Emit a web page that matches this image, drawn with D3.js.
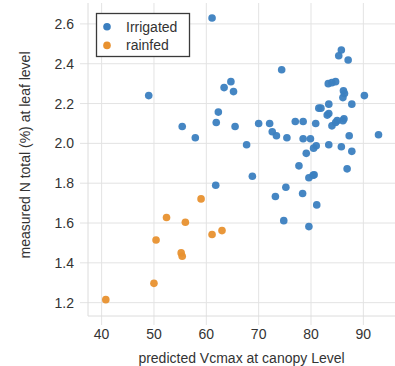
<!DOCTYPE html>
<html>
<head>
<meta charset="utf-8">
<script src="https://d3js.org/d3.v7.min.js"></script>
<style>
body { margin: 0; background: #fff; }
svg text { font-family: "Liberation Sans", Arial, sans-serif; fill: #333; }
</style>
</head>
<body>
<div id="chart"></div>
<script>
// data
var irrigatedX = [61.1, 74.4, 64.7, 63.4, 65.2, 62.3, 61.9, 65.5, 70.0, 72.1, 72.6, 73.4, 75.4, 67.7, 57.9, 49.0, 55.4,
  85.8, 85.3, 87.1, 83.3, 84.0, 84.7, 86.2, 86.4, 86.1, 90.2, 87.8, 83.4, 81.5, 81.9, 83.1, 83.4, 86.3, 86.1, 85.0, 84.7, 84.0,
  77.0, 78.5, 80.9, 87.3, 92.9, 78.5, 79.9, 81.0, 80.5, 83.4, 85.8, 87.8, 79.1,
  77.7, 79.6, 80.4, 80.6, 86.9, 78.4, 81.1, 79.6, 68.8, 61.8, 73.2, 75.2, 74.8];
var irrigatedY = [2.63, 2.37, 2.31, 2.28, 2.26, 2.157, 2.105, 2.085, 2.10, 2.10, 2.058, 2.038, 2.028, 1.993, 2.028, 2.24, 2.085,
  2.469, 2.44, 2.419, 2.30, 2.305, 2.31, 2.264, 2.25, 2.23, 2.24, 2.197, 2.197, 2.177, 2.177, 2.142, 2.15, 2.124, 2.114, 2.114, 2.105, 2.088,
  2.11, 2.11, 2.10, 2.038, 2.043, 2.023, 2.023, 1.988, 1.976, 1.993, 1.983, 1.96, 1.95,
  1.887, 1.827, 1.840, 1.842, 1.872, 1.748, 1.691, 1.582, 1.835, 1.79, 1.733, 1.78, 1.612];
var rainfedX = [59.0, 61.1, 63.0, 52.4, 56.0, 50.4, 55.2, 55.4, 50.0, 40.8];
var rainfedY = [1.721, 1.542, 1.562, 1.628, 1.604, 1.515, 1.45, 1.433, 1.297, 1.215];
var xTicks = [40, 50, 60, 70, 80, 90];
var yTicks = [1.2, 1.4, 1.6, 1.8, 2.0, 2.2, 2.4, 2.6];
var seriesNames = ["Irrigated", "rainfed"];
var colors = ["#3b7fc0", "#e8912f"];

var width = 395, height = 366;
var plotLeft = 88, plotRight = 395, plotTop = 3, plotBottom = 316;

var svg = d3.select("#chart").append("svg").attr("width", width).attr("height", height);

var x = d3.scaleLinear().domain([37.4, 96.05]).range([plotLeft, plotRight]);
var y = d3.scaleLinear().domain([1.133, 2.705]).range([plotBottom, plotTop]);

// grid + ticks (ticks are just the gridlines poking out)
svg.append("g").selectAll("line").data(xTicks).enter().append("line")
  .attr("x1", function(d) { return x(d); }).attr("x2", function(d) { return x(d); })
  .attr("y1", plotTop).attr("y2", plotBottom + 9)
  .attr("stroke", "#e3e3e3").attr("stroke-width", 1);
svg.append("g").selectAll("line").data(yTicks).enter().append("line")
  .attr("y1", function(d) { return y(d); }).attr("y2", function(d) { return y(d); })
  .attr("x1", plotLeft - 8).attr("x2", plotRight)
  .attr("stroke", "#e3e3e3").attr("stroke-width", 1);

// left + bottom spines
svg.append("line").attr("x1", plotLeft).attr("x2", plotLeft).attr("y1", plotTop).attr("y2", plotBottom).attr("stroke", "#dcdcdc");
svg.append("line").attr("x1", plotLeft).attr("x2", plotRight).attr("y1", plotBottom).attr("y2", plotBottom).attr("stroke", "#dcdcdc");

// tick labels
svg.append("g").selectAll("text").data(xTicks).enter().append("text")
  .attr("x", function(d) { return x(d); }).attr("y", 339)
  .attr("text-anchor", "middle").style("font-size", "14px")
  .text(function(d) { return d; });
svg.append("g").selectAll("text").data(yTicks).enter().append("text")
  .attr("x", 74).attr("y", function(d) { return y(d) + 5; })
  .attr("text-anchor", "end").style("font-size", "14px")
  .text(function(d) { return d.toFixed(1); });

// axis titles
svg.append("text").attr("x", (plotLeft + plotRight) / 2).attr("y", 363)
  .attr("text-anchor", "middle").style("font-size", "14px")
  .text("predicted Vcmax at canopy Level");
svg.append("text").attr("transform", "translate(30,155) rotate(-90)")
  .attr("text-anchor", "middle").style("font-size", "14px")
  .text("measured N total (%) at leaf level");

// points
var irrigated = irrigatedX.map(function(d, i) { return [d, irrigatedY[i]]; });
var rainfed = rainfedX.map(function(d, i) { return [d, rainfedY[i]]; });

svg.append("g").selectAll("circle").data(irrigated).enter().append("circle")
  .attr("cx", function(d) { return x(d[0]); }).attr("cy", function(d) { return y(d[1]); })
  .attr("r", 3.8).style("fill", colors[0]).style("fill-opacity", 0.95);
svg.append("g").selectAll("circle").data(rainfed).enter().append("circle")
  .attr("cx", function(d) { return x(d[0]); }).attr("cy", function(d) { return y(d[1]); })
  .attr("r", 3.8).style("fill", colors[1]).style("fill-opacity", 0.95);

// legend
var legend = svg.append("g");
legend.append("rect").attr("x", 96.5).attr("y", 13.5).attr("width", 93).attr("height", 43)
  .style("fill", "#fff").style("stroke", "#3a3a3a").style("stroke-width", 1.3);
seriesNames.forEach(function(name, i) {
  legend.append("circle").attr("cx", 107).attr("cy", 26.7 + i * 18.7).attr("r", 3.8).style("fill", colors[i]);
  legend.append("text").attr("x", 126).attr("y", 31.5 + i * 18.7).style("font-size", "14px").text(name);
});
</script>
</body>
</html>
